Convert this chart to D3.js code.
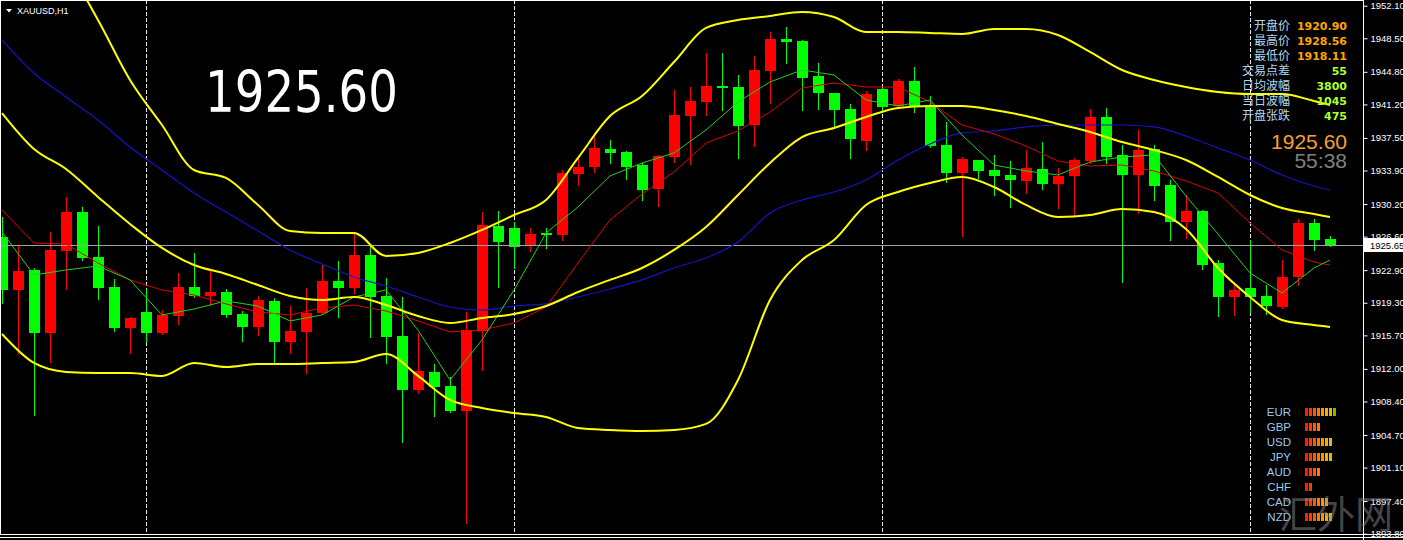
<!DOCTYPE html>
<html>
<head>
<meta charset="utf-8">
<script src="https://cdn.jsdelivr.net/npm/d3@7"></script>
<style>
  html, body { margin: 0; padding: 0; background: #000; overflow: hidden; }
  svg { display: block; }
</style>
</head>
<body>
<svg id="chart" width="1403" height="540"></svg>
<script>
// XAUUSD H1 candles, oldest first
const opens = [1926.56,1920.71,1922.92,1915.96,1925.02,1929.32,1924.35,1921.04,1916.51,1918.28,
1915.96,1917.84,1921.04,1920.05,1920.49,1918.06,1916.62,1919.50,1914.97,1916.07,
1918.17,1921.70,1920.93,1924.57,1920.05,1915.63,1909.67,1911.66,1910.11,1907.35,
1916.18,1927.78,1927.56,1925.57,1927.00,1926.78,1933.52,1934.29,1936.28,1935.95,
1934.51,1931.86,1935.40,1939.92,1941.47,1943.23,1943.12,1938.93,1944.89,1948.42,
1948.20,1944.34,1942.46,1940.69,1937.16,1942.90,1941.03,1943.79,1941.03,1936.72,
1933.63,1935.06,1933.96,1933.41,1932.75,1934.07,1932.41,1933.30,1934.95,1939.81,
1935.62,1933.41,1936.28,1932.30,1928.22,1929.43,1923.69,1919.94,1920.90,1920.05,
1918.83,1922.15,1928.11,1926.34];
const highs = [1928.77,1925.68,1923.14,1927.11,1930.98,1929.87,1927.78,1921.92,1917.73,1920.82,
1918.50,1922.59,1924.80,1922.92,1920.82,1918.39,1920.10,1919.83,1918.94,1920.93,
1923.47,1923.91,1927.00,1925.68,1922.03,1919.94,1915.96,1912.54,1911.11,1918.28,
1929.32,1929.43,1928.22,1927.56,1927.56,1933.96,1935.40,1937.60,1937.27,1936.02,
1934.73,1935.62,1942.79,1943.12,1946.88,1946.88,1944.45,1946.55,1949.20,1949.75,
1948.31,1945.77,1942.50,1941.25,1942.68,1943.01,1944.01,1945.33,1942.13,1939.26,
1935.40,1935.10,1935.62,1934.95,1936.17,1937.05,1934.18,1935.28,1940.69,1940.80,
1936.72,1938.38,1936.72,1932.86,1931.20,1929.50,1924.02,1921.48,1926.23,1921.26,
1924.02,1928.56,1928.56,1926.67];
const lows = [1919.27,1913.75,1906.91,1912.76,1920.82,1924.02,1919.72,1916.18,1913.75,1914.97,
1915.85,1916.96,1919.94,1919.05,1917.73,1915.08,1915.74,1912.65,1913.75,1911.55,
1918.06,1917.73,1920.38,1915.52,1912.65,1903.93,1909.34,1906.80,1907.25,1894.98,
1911.88,1921.04,1923.14,1925.02,1925.35,1926.23,1932.30,1933.74,1934.73,1932.97,
1930.65,1929.99,1934.84,1934.62,1940.03,1940.58,1935.28,1936.61,1941.36,1945.77,
1940.58,1940.69,1938.60,1935.28,1936.17,1940.58,1940.92,1940.36,1936.50,1932.63,
1926.67,1933.08,1931.20,1929.87,1931.42,1931.86,1929.76,1928.99,1934.73,1934.73,
1921.59,1929.21,1930.65,1926.23,1926.45,1923.03,1917.84,1917.95,1918.28,1918.11,
1918.72,1921.26,1925.13,1925.55];
const closes = [1920.71,1922.81,1915.96,1925.13,1929.32,1924.24,1920.93,1916.51,1917.62,1915.96,
1917.95,1921.04,1920.05,1920.49,1917.95,1916.62,1919.61,1914.97,1916.18,1918.17,
1921.70,1920.93,1924.57,1919.94,1915.52,1909.67,1911.77,1910.00,1907.35,1916.29,
1927.89,1926.01,1925.46,1926.89,1926.78,1933.63,1934.29,1936.39,1935.84,1934.29,
1931.75,1935.51,1940.03,1941.58,1943.23,1943.01,1938.82,1945.00,1948.42,1948.09,
1944.12,1942.46,1940.58,1937.38,1942.35,1940.92,1943.79,1941.03,1936.61,1933.63,
1935.17,1933.85,1933.30,1932.86,1934.18,1932.41,1933.30,1935.06,1939.81,1935.40,
1933.41,1936.17,1932.19,1928.22,1929.43,1923.47,1919.94,1920.71,1919.94,1918.94,
1922.15,1928.11,1926.23,1925.60];

// indicator readings, taken at these bar indices
const indIdx = d3.range(0, 84, 2).concat([83]);
const bbUpper = [1964.88,1959.91,1956.48,1950.52,1943.90,1938.93,1933.96,1933.08,1930.10,1927.23,
1927.00,1927.00,1924.47,1924.80,1925.90,1927.34,1928.99,1930.65,1935.29,1939.92,
1942.13,1945.88,1949.64,1950.52,1950.96,1951.41,1950.85,1949.20,1949.20,1949.09,
1948.98,1949.53,1949.53,1948.87,1946.99,1945.00,1943.90,1943.12,1942.57,1942.35,
1942.35,1941.58,1941.14];
const bbMiddle = [1940.25,1936.28,1934.07,1930.98,1928.00,1925.35,1923.47,1922.48,1921.26,1920.05,
1919.61,1919.94,1919.05,1917.84,1917.07,1917.62,1918.06,1918.94,1920.49,1921.82,
1923.14,1925.13,1927.67,1931.20,1934.73,1937.60,1938.60,1939.81,1940.81,1941.03,
1941.03,1940.58,1939.92,1939.04,1938.16,1937.05,1936.17,1935.06,1933.19,1931.20,
1929.76,1929.10,1928.77];
const bbLower = [1915.85,1912.65,1911.66,1911.55,1911.55,1911.22,1912.65,1912.21,1912.54,1912.54,
1912.65,1912.76,1913.64,1911.22,1908.57,1907.68,1907.13,1906.69,1905.47,1905.25,
1905.14,1905.25,1905.92,1910.77,1919.61,1924.02,1926.23,1930.10,1931.53,1932.52,
1933.19,1932.08,1930.10,1928.77,1928.99,1929.65,1929.32,1927.45,1923.14,1919.94,
1917.40,1916.85,1916.63];
const maSlow = [1948.31,1944.67,1942.02,1939.48,1936.50,1933.96,1931.42,1929.32,1927.23,1925.13,
1923.58,1922.15,1921.15,1919.94,1918.83,1918.50,1918.94,1919.17,1919.94,1920.82,
1921.82,1923.14,1924.24,1926.01,1929.21,1930.65,1931.53,1932.86,1935.06,1936.83,
1938.05,1938.27,1938.71,1938.93,1938.93,1938.93,1938.71,1937.71,1936.39,1935.06,
1933.41,1932.19,1931.75];
const maMid = [1929.54,1925.90,1925.79,1923.69,1921.82,1920.71,1920.16,1919.17,1918.28,1917.95,
1918.72,1919.05,1918.39,1917.29,1916.07,1916.29,1917.07,1918.83,1923.69,1928.44,
1931.31,1933.74,1936.94,1938.27,1940.36,1943.01,1943.57,1943.12,1943.12,1941.47,
1938.93,1937.94,1936.61,1934.95,1934.40,1934.51,1933.85,1932.75,1931.42,1928.11,
1925.13,1923.80,1923.47];
const maFast = [1927.11,1922.37,1922.92,1923.36,1921.82,1917.95,1918.61,1919.50,1918.94,1917.29,
1917.95,1919.94,1920.71,1916.29,1910.77,1915.19,1920.71,1927.00,1929.88,1933.30,
1934.73,1935.84,1938.38,1941.47,1943.68,1945.00,1944.45,1941.69,1941.03,1941.69,
1937.82,1934.51,1933.85,1933.41,1934.84,1935.40,1935.62,1931.09,1926.89,1922.59,
1920.38,1923.14,1924.02];

// price axis labels, day-break bars, quote
const priceTicks = [1952.10,1948.50,1944.80,1941.20,1937.50,1933.90,1930.20,1926.60,1922.90,
1919.30,1915.70,1912.00,1908.40,1904.70,1901.10,1897.40,1893.80];
const dayBreaks = [9, 32, 55, 78];
const bidPrice = 1925.65;
const lastPrice = "1925.60";
const timeLeft = "55:38";

// info panel
const infoLabels = ["开盘价", "最高价", "最低价", "交易点差", "日均波幅", "当日波幅", "开盘张跌"];
const infoValues = ["1920.90", "1928.56", "1918.11", "55", "3800", "1045", "475"];

// currency strength meter
const currencies = ["EUR", "GBP", "USD", "JPY", "AUD", "CHF", "CAD", "NZD"];
const strength = [8, 4, 7, 7, 4, 2, 6, 7];
const meterColors = ["#ff1e00", "#ff3c00", "#ff5a00", "#ff7800", "#ff9600", "#f0b000", "#d8c000", "#90b000"];

const W = 1403, H = 540, plotRight = 1363, plotBottom = 534;
const svg = d3.select("#chart");
svg.append("rect").attr("width", W).attr("height", H).attr("fill", "#000");

const x = d3.scaleLinear().domain([0, 83]).range([2, 1330]);
const y = d3.scaleLinear().domain([1893.8, 1952.1]).range([533.7, 5.7]);

svg.append("clipPath").attr("id", "plot")
  .append("rect").attr("x", 0).attr("y", 0).attr("width", plotRight).attr("height", plotBottom);
const plot = svg.append("g").attr("clip-path", "url(#plot)");

// day separators
plot.selectAll("line.sep").data(dayBreaks).join("line")
  .attr("x1", d => Math.round(x(d)) + 0.5).attr("x2", d => Math.round(x(d)) + 0.5)
  .attr("y1", 0).attr("y2", plotBottom)
  .attr("stroke", "#e8e8e8").attr("stroke-width", 1).attr("stroke-dasharray", "4,2");

// candles: red rising, green falling
const bars = d3.range(opens.length).map(i => ({
  i, o: opens[i], h: highs[i], l: lows[i], c: closes[i]
}));
const col = d => d.c > d.o ? "#ff0000" : "#00ff00";
const cg = plot.append("g");
cg.selectAll("line").data(bars).join("line")
  .attr("x1", d => Math.round(x(d.i)) + 0.5).attr("x2", d => Math.round(x(d.i)) + 0.5)
  .attr("y1", d => Math.round(y(d.h))).attr("y2", d => Math.round(y(d.l)) + 1)
  .attr("stroke", col).attr("stroke-width", 1);
cg.selectAll("rect").data(bars).join("rect")
  .attr("x", d => Math.round(x(d.i)) - 5)
  .attr("width", 11)
  .attr("y", d => Math.round(y(Math.max(d.o, d.c))))
  .attr("height", d => Math.max(2, Math.round(y(Math.min(d.o, d.c))) - Math.round(y(Math.max(d.o, d.c)))))
  .attr("fill", col);

// bid line
plot.append("line")
  .attr("x1", 0).attr("x2", plotRight)
  .attr("y1", Math.round(y(bidPrice)) + 0.5).attr("y2", Math.round(y(bidPrice)) + 0.5)
  .attr("stroke", "#a0a0a0").attr("stroke-width", 1);

// indicator lines
const smooth = d3.line().x(d => x(d.i)).y(d => y(d.v)).curve(d3.curveMonotoneX);
const straight = d3.line().x(d => x(d.i)).y(d => y(d.v));
const series = (vals) => indIdx.map((i, k) => ({ i, v: vals[k] }));
const drawLine = (vals, color, width, gen) =>
  plot.append("path").datum(series(vals)).attr("d", gen)
    .attr("fill", "none").attr("stroke", color).attr("stroke-width", width)
    .attr("stroke-linejoin", "round");
drawLine(maSlow, "#1414c8", 1.2, smooth);
drawLine(maMid, "#e00000", 1, straight);
drawLine(maFast, "#22d022", 1, straight);
drawLine(bbUpper, "#ffff00", 2, smooth);
drawLine(bbMiddle, "#ffff00", 2, smooth);
drawLine(bbLower, "#ffff00", 2, smooth);

// frame
svg.append("line").attr("x1", 0.5).attr("x2", 0.5).attr("y1", 0).attr("y2", plotBottom).attr("stroke", "#fff");
svg.append("line").attr("x1", 0).attr("x2", plotRight).attr("y1", 0.5).attr("y2", 0.5).attr("stroke", "#fff");
svg.append("line").attr("x1", plotRight + 0.5).attr("x2", plotRight + 0.5).attr("y1", 0).attr("y2", H).attr("stroke", "#fff");
svg.append("line").attr("x1", 0).attr("x2", W).attr("y1", plotBottom + 0.5).attr("y2", plotBottom + 0.5).attr("stroke", "#fff");
svg.append("line").attr("x1", 0).attr("x2", W).attr("y1", plotBottom + 3.5).attr("y2", plotBottom + 3.5).attr("stroke", "#fff");

// price axis
const axis = d3.axisRight(y).tickValues(priceTicks).tickFormat(d3.format(".2f")).tickSize(4).tickPadding(3);
const ag = svg.append("g").attr("transform", `translate(${plotRight + 0.5},0)`).call(axis);
ag.select(".domain").remove();
ag.selectAll(".tick line").attr("stroke", "#fff");
ag.selectAll(".tick text").attr("fill", "#fff")
  .attr("font-family", "Liberation Sans, Arial, sans-serif").attr("font-size", 9.5);

// bid label on the axis
const by = Math.round(y(bidPrice));
svg.append("rect").attr("x", plotRight + 1).attr("y", by - 7).attr("width", 40).attr("height", 14).attr("fill", "#fff");
svg.append("text").attr("x", plotRight + 7).attr("y", by + 4)
  .attr("font-family", "Liberation Sans, Arial, sans-serif").attr("font-size", 9.5).attr("fill", "#000")
  .text(d3.format(".2f")(bidPrice));

// symbol caption
svg.append("path").attr("d", "M6,9 L12,9 L9,12.5 Z").attr("fill", "#fff");
svg.append("text").attr("x", 17).attr("y", 14)
  .attr("font-family", "Liberation Sans, Arial, sans-serif").attr("font-size", 9).attr("fill", "#fff")
  .text("XAUUSD,H1");

// big quote
svg.append("text").attr("x", 205).attr("y", 112)
  .attr("font-family", "DejaVu Sans, sans-serif").attr("font-size", 57).attr("fill", "#fff")
  .attr("textLength", 193).attr("lengthAdjust", "spacingAndGlyphs")
  .text(lastPrice);

// info panel
const ip = svg.append("g");
ip.selectAll("text.lbl").data(infoLabels).join("text")
  .attr("x", 1290).attr("y", (d, i) => 29.5 + i * 15).attr("text-anchor", "end")
  .attr("font-family", "Noto Sans CJK SC, sans-serif").attr("font-size", 12).attr("fill", "#b4d8f0")
  .text(d => d);
ip.selectAll("text.val").data(infoValues).join("text")
  .attr("x", 1347).attr("y", (d, i) => 29.5 + i * 15).attr("text-anchor", "end")
  .attr("font-family", "DejaVu Sans, sans-serif").attr("font-weight", "bold").attr("font-size", 11)
  .attr("fill", (d, i) => i < 3 ? "#ffa500" : "#adff2f")
  .text(d => d);
ip.append("text").attr("x", 1347).attr("y", 148.5).attr("text-anchor", "end")
  .attr("font-family", "Liberation Sans, Arial, sans-serif").attr("font-size", 21).attr("fill", "#f5a030")
  .text(lastPrice);
ip.append("text").attr("x", 1347).attr("y", 167.5).attr("text-anchor", "end")
  .attr("font-family", "Liberation Sans, Arial, sans-serif").attr("font-size", 21).attr("fill", "#808080")
  .text(timeLeft);

// currency strength meter
const cm = svg.append("g");
cm.selectAll("text").data(currencies).join("text")
  .attr("x", 1291).attr("y", (d, i) => 416 + i * 15).attr("text-anchor", "end")
  .attr("font-family", "Liberation Sans, Arial, sans-serif").attr("font-size", 11.5).attr("fill", "#9cc8e8")
  .text(d => d);
currencies.forEach((c, i) => {
  cm.selectAll(null).data(d3.range(strength[i])).join("rect")
    .attr("x", k => 1305 + k * 4).attr("y", 408 + i * 15).attr("width", 3).attr("height", 8)
    .attr("fill", k => meterColors[k]);
});

// site mark
svg.append("text").attr("x", 1336).attr("y", 528).attr("text-anchor", "middle")
  .attr("font-family", "Noto Sans CJK SC, sans-serif").attr("font-size", 38)
  .attr("fill", "#8a8a8a").attr("fill-opacity", 0.5)
  .text("汇外网");
</script>
</body>
</html>
